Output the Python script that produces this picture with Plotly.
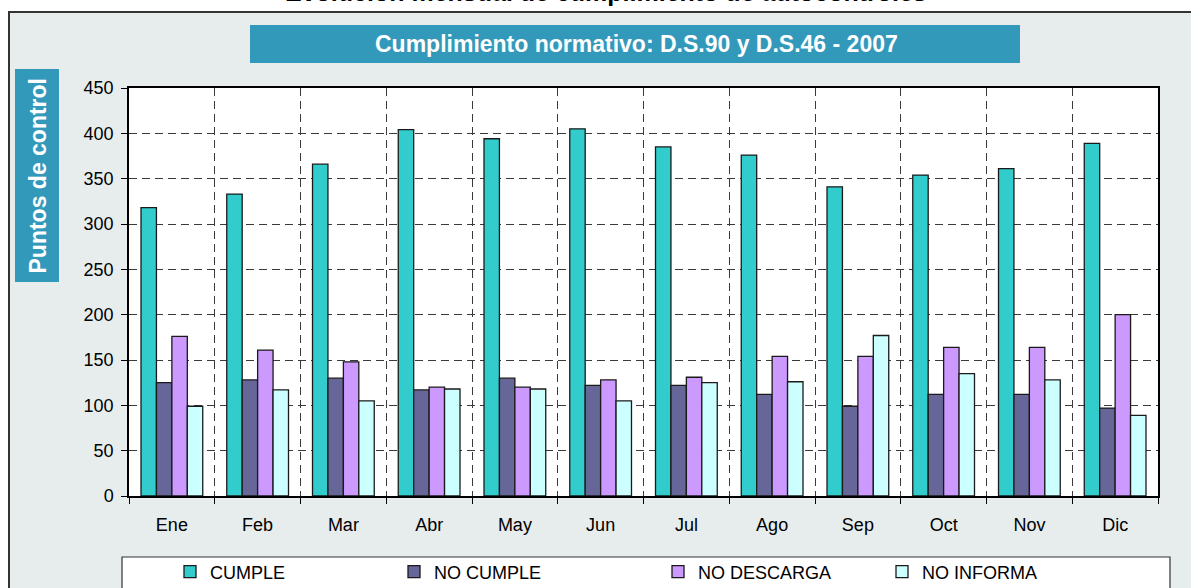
import plotly.graph_objects as go

# ---- data ----
months = ["Ene", "Feb", "Mar", "Abr", "May", "Jun", "Jul", "Ago", "Sep", "Oct", "Nov", "Dic"]
cumple = [318, 333, 366, 404, 394, 405, 385, 376, 341, 354, 361, 389]
no_cumple = [125, 128, 130, 117, 130, 122, 122, 112, 99, 112, 112, 97]
no_descarga = [176, 161, 148, 120, 120, 128, 131, 154, 154, 164, 164, 200]
no_informa = [99, 117, 105, 118, 118, 105, 125, 126, 177, 135, 128, 89]
series_names = ["CUMPLE", "NO CUMPLE", "NO DESCARGA", "NO INFORMA"]
y_ticks = [0, 50, 100, 150, 200, 250, 300, 350, 400, 450]

# ---- layout helpers (pixel -> paper) ----
W, H = 1191, 588
L, R, T, B = 129, 1158, 88, 496
def px(x):
    return (x - L) / (R - L)
def py(y):
    return (B - y) / (B - T)

FONT = "Arial, 'Liberation Sans', sans-serif"
colors = ["#33CCCC", "#666699", "#CC99FF", "#CCFFFF"]
values = [cumple, no_cumple, no_descarga, no_informa]
legend_ids = ["legend", "legend2", "legend3", "legend4"]
legend_marker_left = [189, 413, 677, 901]

fig = go.Figure()
for name, vals, col, lid in zip(series_names, values, colors, legend_ids):
    fig.add_trace(go.Bar(
        x=months, y=vals, name=name, legend=lid,
        marker=dict(color=col, line=dict(color="#1a1a1a", width=1.3)),
    ))

shapes = [
    # outer grey frame
    dict(type="rect", xref="paper", yref="paper", x0=px(9), x1=px(1205), y0=py(12), y1=py(610),
         fillcolor="#E7EDED", line=dict(color="#333333", width=2), layer="below"),
    # white plot area
    dict(type="rect", xref="paper", yref="paper", x0=0, x1=1, y0=0, y1=1,
         fillcolor="white", line=dict(width=0), layer="below"),
    # title box
    dict(type="rect", xref="paper", yref="paper", x0=px(250), x1=px(1020), y0=py(63), y1=py(25),
         fillcolor="#3399BB", line=dict(width=0), layer="above"),
    # y-axis label box
    dict(type="rect", xref="paper", yref="paper", x0=px(15), x1=px(59), y0=py(282), y1=py(69),
         fillcolor="#3399BB", line=dict(width=0), layer="above"),
    # legend box
    dict(type="rect", xref="paper", yref="paper", x0=px(122), x1=px(1170), y0=py(610), y1=py(557),
         fillcolor="white", line=dict(color="#333333", width=1.2), layer="below"),
]

annotations = [
    dict(text="<b>Evolución mensual de cumplimiento de autocontroles</b>", xref="paper", yref="paper",
         x=px(606), y=py(-8), xanchor="center", yanchor="middle", showarrow=False,
         font=dict(family=FONT, size=25, color="black")),
    dict(text="<b>Cumplimiento normativo: D.S.90 y D.S.46 - 2007</b>", xref="paper", yref="paper",
         x=px(636), y=py(44), xanchor="center", yanchor="middle", showarrow=False,
         font=dict(family=FONT, size=23, color="white")),
    dict(text="<b>Puntos de control</b>", xref="paper", yref="paper", textangle=-90,
         x=px(37), y=py(175.5), xanchor="center", yanchor="middle", showarrow=False,
         font=dict(family=FONT, size=23, color="white")),
]

layout_legends = {}
for lid, ml in zip(legend_ids, legend_marker_left):
    layout_legends[lid] = dict(
        x=px(ml - 19), y=py(572), xanchor="left", yanchor="middle",
        orientation="h", bgcolor="rgba(0,0,0,0)", borderwidth=0,
        font=dict(family=FONT, size=18, color="black"),
    )

fig.update_layout(
    width=W, height=H,
    margin=dict(l=L, r=W - R, t=T, b=H - B, pad=0, autoexpand=False),
    paper_bgcolor="white", plot_bgcolor="white",
    barmode="group", bargap=0.28, bargroupgap=0,
    font=dict(family=FONT, size=18, color="black"),
    showlegend=True,
    shapes=shapes, annotations=annotations,
    **layout_legends,
)
fig.update_xaxes(
    type="category", tickson="boundaries", ticks="outside", ticklen=6, tickcolor="black",
    showline=True, linecolor="black", linewidth=1.5, mirror=True,
    showgrid=True, gridcolor="#3a3a3a", gridwidth=1, griddash="8px,5px",
    tickfont=dict(family=FONT, size=18, color="black"), ticklabelstandoff=12,
    automargin=False,
)
fig.update_yaxes(
    range=[0, 450], tickvals=y_ticks, ticks="outside", ticklen=6, tickcolor="black",
    showline=True, linecolor="black", linewidth=1.5, mirror=True,
    showgrid=True, gridcolor="#3a3a3a", gridwidth=1, griddash="8px,5px",
    tickfont=dict(family=FONT, size=18, color="black"), ticklabelstandoff=4,
    zeroline=False, automargin=False,
)

fig.write_html("out.html", config={"displayModeBar": False},
               post_script="document.body.style.margin='0';document.body.style.overflow='hidden';")
